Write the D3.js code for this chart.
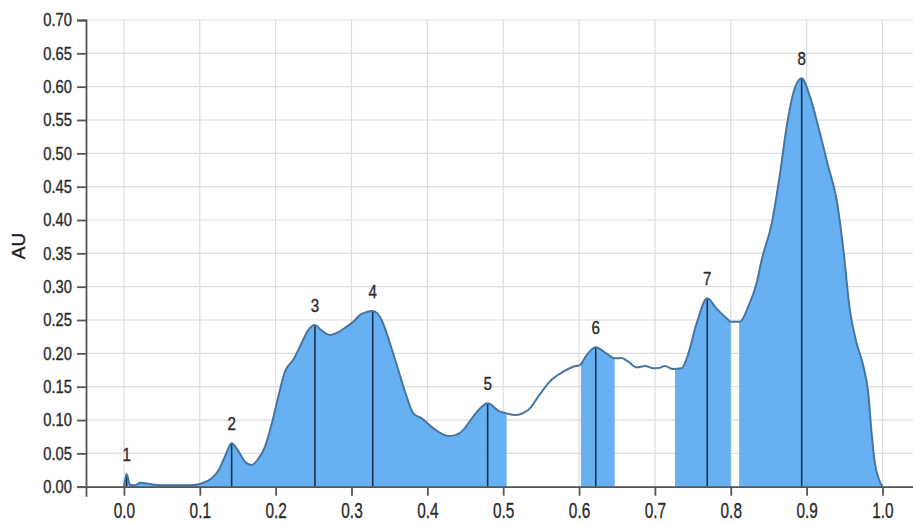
<!DOCTYPE html>
<html>
<head>
<meta charset="utf-8">
<script src="https://cdn.jsdelivr.net/npm/d3@7"></script>
<style>
  html, body { margin: 0; padding: 0; background: #fff; }
  svg { display: block; font-family: "Liberation Sans", Arial, sans-serif; }
  .label { stroke: #2a2a2a; stroke-width: 0.35px; }
</style>
</head>
<body>
<div id="chart"></div>
<script>
// Densitometric profile: relative position along the lane vs. absorbance (AU)
const positions = [
  0.000, 0.0035, 0.008, 0.014, 0.022, 0.030, 0.040, 0.060, 0.080, 0.095,
  0.105, 0.115, 0.125, 0.133, 0.142, 0.150, 0.160, 0.168, 0.176, 0.186,
  0.195, 0.2035, 0.212, 0.223, 0.232, 0.243, 0.2518, 0.260, 0.2716, 0.283,
  0.2936, 0.303, 0.311, 0.320, 0.328, 0.334, 0.3397, 0.3507, 0.3617, 0.3727,
  0.3815, 0.3925, 0.408, 0.418, 0.4276, 0.436, 0.445, 0.4605, 0.470, 0.4795,
  0.4957, 0.5045, 0.5155, 0.533, 0.548, 0.5616, 0.579, 0.5924, 0.601, 0.610,
  0.622, 0.636, 0.647, 0.656, 0.665, 0.676, 0.687, 0.698, 0.705, 0.713,
  0.724, 0.735, 0.742, 0.755, 0.769, 0.781, 0.7946, 0.800, 0.812, 0.823,
  0.834, 0.8407, 0.854, 0.865, 0.8737, 0.8824, 0.8935, 0.9044, 0.9176, 0.9286,
  0.9396, 0.948, 0.957, 0.966, 0.975, 0.9813, 0.9857, 0.990, 0.995, 1.000
];
const absorbance = [
  0.000, 0.019, 0.003, 0.002, 0.006, 0.005, 0.003, 0.002, 0.002, 0.003,
  0.006, 0.012, 0.025, 0.045, 0.065, 0.055, 0.037, 0.0325, 0.040, 0.060,
  0.095, 0.135, 0.172, 0.190, 0.210, 0.235, 0.2425, 0.235, 0.2275, 0.232,
  0.240, 0.248, 0.2575, 0.262, 0.2635, 0.260, 0.250, 0.215, 0.175, 0.135,
  0.110, 0.1025, 0.0875, 0.080, 0.076, 0.077, 0.0825, 0.105, 0.118, 0.125,
  0.1125, 0.110, 0.1075, 0.115, 0.138, 0.158, 0.1725, 0.180, 0.1825, 0.1975,
  0.209, 0.200, 0.1925, 0.193, 0.1875, 0.179, 0.181, 0.1775, 0.178, 0.181,
  0.1765, 0.1775, 0.1925, 0.245, 0.2825, 0.2675, 0.2525, 0.2475, 0.2475, 0.270,
  0.305, 0.340, 0.395, 0.470, 0.540, 0.590, 0.6125, 0.585, 0.530, 0.480,
  0.430, 0.360, 0.265, 0.215, 0.180, 0.140, 0.080, 0.035, 0.012, 0.000
];

// Detected bands: number and position of each peak maximum
const peakLabels = ["1", "2", "3", "4", "5", "6", "7", "8"];
const peakPositions = [0.0035, 0.142, 0.2518, 0.328, 0.4795, 0.622, 0.769, 0.8935];

// Integrated (shaded) intervals along the lane
const regionStarts = [0.000, 0.6025, 0.7265, 0.811];
const regionEnds   = [0.5045, 0.647, 0.800, 1.000];

// Axis ticks
const xTicks = [0.0, 0.1, 0.2, 0.3, 0.4, 0.5, 0.6, 0.7, 0.8, 0.9, 1.0];
const yTicks = [0.00, 0.05, 0.10, 0.15, 0.20, 0.25, 0.30, 0.35, 0.40, 0.45, 0.50, 0.55, 0.60, 0.65, 0.70];

const W = 913, H = 525;
const data = positions.map((p, i) => ({ x: p, y: absorbance[i] }));

const x = d3.scaleLinear().domain([-0.05, 1.05]).range([86, 920.4]);
const y = d3.scaleLinear().domain([0, 0.70]).range([486.7, 20]);

const svg = d3.select("#chart").append("svg")
  .attr("width", W).attr("height", H);

// Grid
const grid = svg.append("g").attr("class", "grid");
grid.selectAll("line.h").data(yTicks).join("line")
  .attr("x1", x(-0.05)).attr("x2", W)
  .attr("y1", d => y(d)).attr("y2", d => y(d))
  .attr("stroke", "#dcdcdc").attr("stroke-width", 1.2);
grid.selectAll("line.v").data(xTicks).join("line")
  .attr("x1", d => x(d)).attr("x2", d => x(d))
  .attr("y1", y(0.70)).attr("y2", y(0))
  .attr("stroke", "#dcdcdc").attr("stroke-width", 1.2);

// Shaded intervals under the curve
const defs = svg.append("defs");
regionStarts.forEach((s, i) => {
  defs.append("clipPath").attr("id", "region-" + i)
    .append("rect")
    .attr("x", x(s)).attr("y", 0)
    .attr("width", x(regionEnds[i]) - x(s)).attr("height", H);
});

const curve = d3.curveMonotoneX;
const area = d3.area().x(d => x(d.x)).y0(y(0)).y1(d => y(d.y)).curve(curve);
const line = d3.line().x(d => x(d.x)).y(d => y(d.y)).curve(curve);

regionStarts.forEach((s, i) => {
  svg.append("path")
    .datum(data)
    .attr("clip-path", `url(#region-${i})`)
    .attr("d", area)
    .attr("fill", "#5fadf2")
    .attr("fill-opacity", 0.95);
});

// Peak markers
const peakValue = p => absorbance[positions.indexOf(p)];
svg.append("g").selectAll("line").data(peakPositions).join("line")
  .attr("x1", d => x(d)).attr("x2", d => x(d))
  .attr("y1", y(0)).attr("y2", d => y(peakValue(d)))
  .attr("stroke", "#16304d").attr("stroke-width", 1.6);

// Profile curve
svg.append("path")
  .datum(data)
  .attr("d", line)
  .attr("fill", "none")
  .attr("stroke", "#48759f")
  .attr("stroke-width", 2);

// Compress a text element horizontally about its anchor point
function narrow(sel, k) {
  sel.each(function () {
    const tx = +this.getAttribute("x") || 0;
    this.setAttribute("x", 0);
    this.setAttribute("transform", `translate(${tx},0) scale(${k},1)`);
  });
}

// Peak numbers
svg.append("g").selectAll("text").data(peakPositions).join("text")
  .attr("class", "label")
  .attr("x", d => x(d))
  .attr("y", d => y(peakValue(d)) - 13)
  .attr("text-anchor", "middle")
  .style("font-size", "18px")
  .attr("fill", "#2a2a2a")
  .text((d, i) => peakLabels[i])
  .call(narrow, 0.84);

// Axes
const xAxis = svg.append("g")
  .attr("transform", `translate(0,${y(0)})`)
  .call(d3.axisBottom(x).tickValues(xTicks).tickFormat(d3.format(".1f"))
    .tickSize(9).tickSizeOuter(10).tickPadding(7));
const yAxis = svg.append("g")
  .attr("transform", `translate(${x(-0.05)},0)`)
  .call(d3.axisLeft(y).tickValues(yTicks).tickFormat(d3.format(".2f"))
    .tickSize(9).tickSizeOuter(9).tickPadding(5));

[xAxis, yAxis].forEach(g => {
  g.select(".domain").attr("stroke", "#555").attr("stroke-width", 1.8);
  g.selectAll(".tick line").attr("stroke", "#555").attr("stroke-width", 1.8);
  g.selectAll(".tick text").attr("class", "label").attr("fill", "#2a2a2a")
    .style("font-family", "'Liberation Sans', Arial, sans-serif");
});
xAxis.selectAll(".tick text").style("font-size", "22px");
narrow(xAxis.selectAll(".tick text"), 0.7);
yAxis.selectAll(".tick text").style("font-size", "18px");
narrow(yAxis.selectAll(".tick text"), 0.82);

// Y axis title
svg.append("text")
  .attr("class", "label")
  .attr("transform", `translate(25,246) rotate(-90)`)
  .attr("text-anchor", "middle")
  .style("font-size", "19px")
  .attr("fill", "#1e1e1e")
  .text("AU");
</script>
</body>
</html>
